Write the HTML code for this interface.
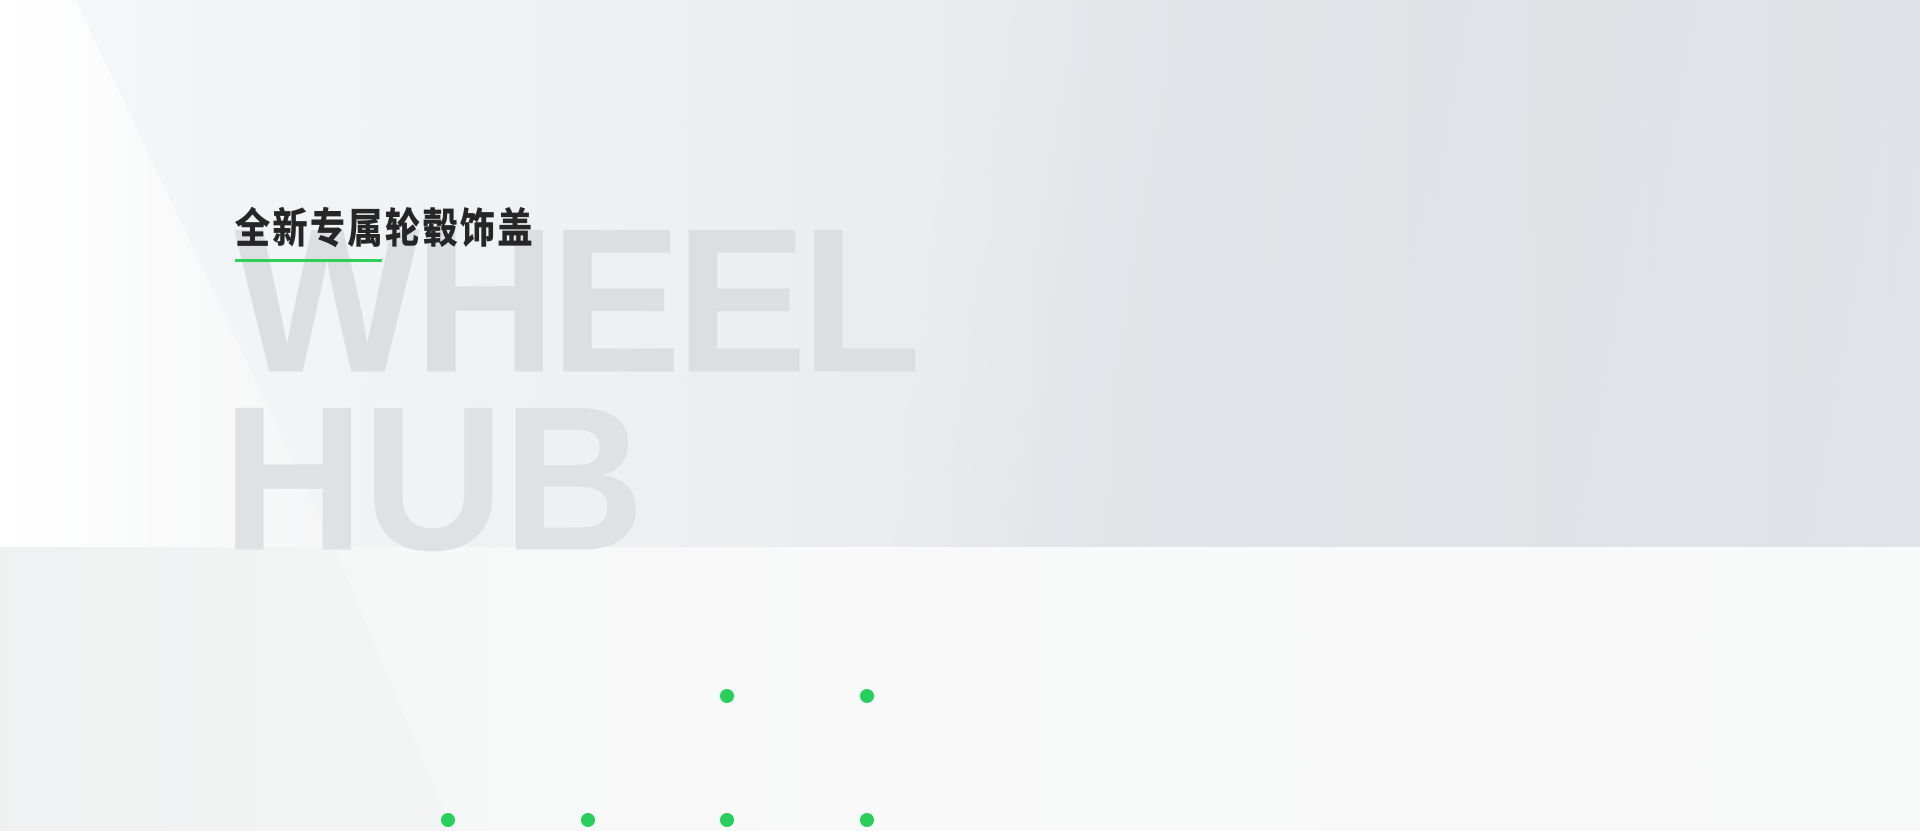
<!DOCTYPE html>
<html><head><meta charset="utf-8"><style>
html,body{margin:0;padding:0}
body{width:1920px;height:831px;position:relative;overflow:hidden;background:#f7f8f8;font-family:"Liberation Sans","Noto Sans CJK SC",sans-serif}
.abs{position:absolute}
</style></head><body>
<div class="abs" style="left:0;top:0;width:1920px;height:547px;background:linear-gradient(90deg,#f6f7f8 0%,#eef0f2 30%,#e8eaed 55%,#e2e5e8 75%,#dfe2e6 100%)"></div>
<div class="abs" style="left:0;top:0;width:1920px;height:547px;background:linear-gradient(100deg,transparent 48%,rgba(220,224,228,0.5) 60%,rgba(225,228,232,0.4) 100%)"></div>
<div class="abs" style="left:0;top:547px;width:1920px;height:284px;background:linear-gradient(90deg,#eef0f1 0%,#f6f7f7 20%,#f9f9f9 45%,#f7f8f8 100%)"></div>
<svg class="abs" style="left:0;top:0" width="1920" height="831">
<defs><linearGradient id="g" x1="0" x2="1" y1="0" y2="0"><stop offset="0" stop-color="#ffffff"/><stop offset="1" stop-color="#f7f8f8" stop-opacity="0.6"/></linearGradient></defs>
<polygon points="0,0 76,0 334,547 0,547" fill="url(#g)"/>
<polygon points="0,547 334,547 453,831 0,831" fill="#f0f1f2" opacity="0.6"/>
</svg>
<div class="abs" style="left:234px;top:198px;font-size:197px;font-weight:bold;color:#dcdee1;line-height:1;letter-spacing:-6px;transform:scaleY(1.045);transform-origin:0 0">WHEEL</div>
<div class="abs" style="left:222px;top:376px;font-size:197px;font-weight:bold;color:#dfe1e3;line-height:1;letter-spacing:-2px;transform:scaleY(1.045);transform-origin:0 0">HUB</div>
<div class="abs" style="left:235px;top:205px;font-size:35px;font-weight:bold;color:#262626;line-height:42px;letter-spacing:2.5px;white-space:nowrap;transform:scaleY(1.17);transform-origin:0 0;-webkit-text-stroke:0.6px #262626">全新专属轮毂饰盖</div>
<div class="abs" style="left:235px;top:259px;width:147px;height:3px;background:#2fcf5a"></div>
<div>
<div class="abs" style="left:720px;top:689px;width:14px;height:14px;border-radius:50%;background:#27d05a"></div>
<div class="abs" style="left:860px;top:689px;width:14px;height:14px;border-radius:50%;background:#27d05a"></div>
<div class="abs" style="left:441px;top:813px;width:14px;height:14px;border-radius:50%;background:#27d05a"></div>
<div class="abs" style="left:581px;top:813px;width:14px;height:14px;border-radius:50%;background:#27d05a"></div>
<div class="abs" style="left:720px;top:813px;width:14px;height:14px;border-radius:50%;background:#27d05a"></div>
<div class="abs" style="left:860px;top:813px;width:14px;height:14px;border-radius:50%;background:#27d05a"></div>
</div>
</body></html>
